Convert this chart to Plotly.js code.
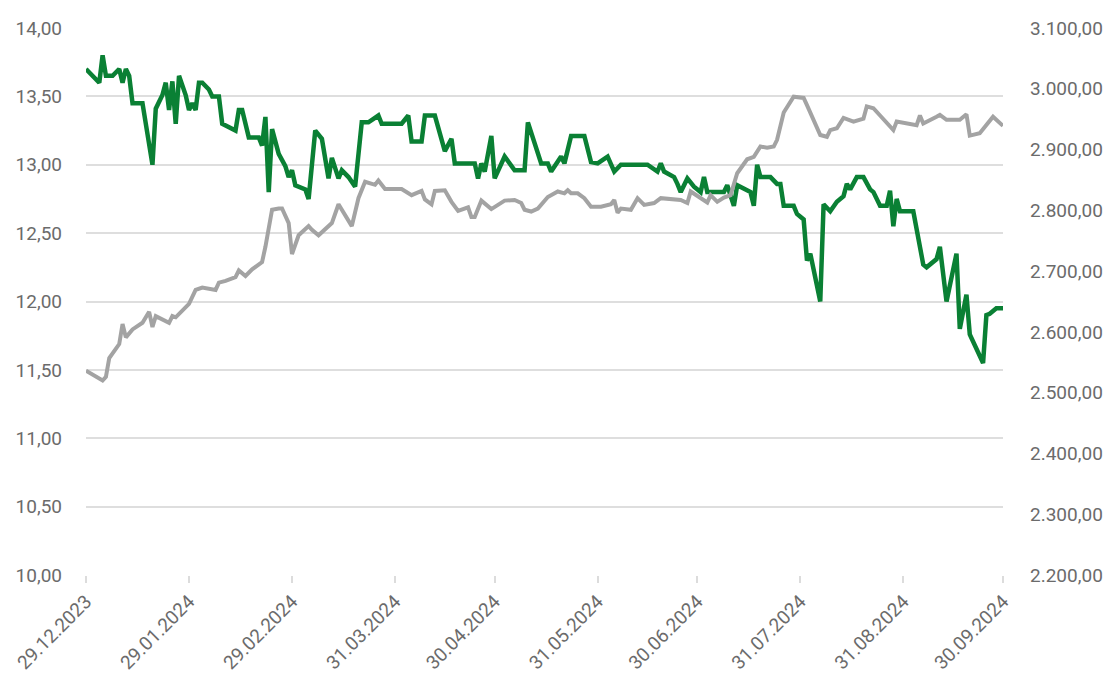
<!DOCTYPE html>
<html>
<head>
<meta charset="utf-8">
<script src="https://cdn.plot.ly/plotly-3.0.1.min.js"></script>
<style>html,body{margin:0;padding:0;background:#fff;}#chart{width:1111px;height:681px;}</style>
</head>
<body>
<div id="chart"></div>
<script>
const greenDates = ["2023-12-29","2024-01-02","2024-01-03","2024-01-04","2024-01-06","2024-01-08","2024-01-09","2024-01-10","2024-01-11","2024-01-12","2024-01-15","2024-01-17","2024-01-18","2024-01-19","2024-01-21","2024-01-22","2024-01-23","2024-01-24","2024-01-25","2024-01-26","2024-01-28","2024-01-29","2024-01-30","2024-01-31","2024-02-01","2024-02-02","2024-02-04","2024-02-05","2024-02-07","2024-02-08","2024-02-12","2024-02-13","2024-02-14","2024-02-16","2024-02-19","2024-02-20","2024-02-21","2024-02-22","2024-02-23","2024-02-25","2024-02-27","2024-02-28","2024-02-29","2024-03-01","2024-03-04","2024-03-05","2024-03-07","2024-03-09","2024-03-11","2024-03-12","2024-03-14","2024-03-15","2024-03-17","2024-03-19","2024-03-21","2024-03-23","2024-03-26","2024-03-27","2024-04-02","2024-04-04","2024-04-05","2024-04-08","2024-04-09","2024-04-12","2024-04-15","2024-04-17","2024-04-18","2024-04-22","2024-04-24","2024-04-25","2024-04-26","2024-04-27","2024-04-29","2024-04-30","2024-05-03","2024-05-06","2024-05-09","2024-05-10","2024-05-14","2024-05-16","2024-05-17","2024-05-20","2024-05-21","2024-05-23","2024-05-27","2024-05-29","2024-05-31","2024-06-03","2024-06-05","2024-06-07","2024-06-15","2024-06-18","2024-06-19","2024-06-20","2024-06-23","2024-06-24","2024-06-25","2024-06-27","2024-06-29","2024-07-01","2024-07-02","2024-07-03","2024-07-04","2024-07-08","2024-07-09","2024-07-11","2024-07-12","2024-07-16","2024-07-17","2024-07-18","2024-07-19","2024-07-22","2024-07-24","2024-07-25","2024-07-26","2024-07-29","2024-07-30","2024-08-01","2024-08-02","2024-08-03","2024-08-06","2024-08-07","2024-08-09","2024-08-11","2024-08-13","2024-08-14","2024-08-15","2024-08-17","2024-08-19","2024-08-21","2024-08-22","2024-08-24","2024-08-26","2024-08-27","2024-08-28","2024-08-29","2024-08-30","2024-09-03","2024-09-06","2024-09-07","2024-09-10","2024-09-11","2024-09-13","2024-09-16","2024-09-17","2024-09-19","2024-09-20","2024-09-24","2024-09-25","2024-09-26","2024-09-28","2024-09-30"];
const greenValues = [13.70,13.60,13.80,13.65,13.65,13.70,13.60,13.70,13.65,13.45,13.45,13.12,13.00,13.41,13.51,13.60,13.40,13.61,13.30,13.65,13.51,13.40,13.45,13.40,13.60,13.60,13.55,13.50,13.50,13.30,13.25,13.40,13.40,13.20,13.20,13.14,13.35,12.80,13.26,13.08,12.99,12.91,12.96,12.85,12.82,12.75,13.25,13.19,12.90,13.05,12.90,12.96,12.91,12.84,13.31,13.31,13.36,13.30,13.30,13.36,13.17,13.17,13.36,13.36,13.10,13.19,13.01,13.01,13.01,12.90,13.01,12.95,13.21,12.90,13.06,12.96,12.96,13.31,13.01,13.01,12.95,13.06,13.01,13.21,13.21,13.02,13.01,13.06,12.95,13.00,13.00,12.95,13.01,12.95,12.91,12.86,12.80,12.90,12.84,12.80,12.91,12.80,12.80,12.80,12.85,12.70,12.85,12.80,12.70,13.00,12.91,12.91,12.86,12.86,12.70,12.70,12.64,12.60,12.30,12.35,12.00,12.71,12.66,12.73,12.77,12.86,12.82,12.91,12.91,12.82,12.80,12.70,12.70,12.81,12.55,12.75,12.66,12.66,12.27,12.25,12.31,12.40,12.00,12.35,11.80,12.05,11.76,11.55,11.90,11.91,11.95,11.95];

const grayDates = ["2023-12-29","2024-01-03","2024-01-04","2024-01-05","2024-01-08","2024-01-09","2024-01-10","2024-01-12","2024-01-15","2024-01-17","2024-01-18","2024-01-19","2024-01-23","2024-01-24","2024-01-25","2024-01-27","2024-01-29","2024-01-31","2024-02-02","2024-02-06","2024-02-07","2024-02-09","2024-02-12","2024-02-13","2024-02-15","2024-02-17","2024-02-20","2024-02-21","2024-02-23","2024-02-25","2024-02-26","2024-02-28","2024-02-29","2024-03-02","2024-03-05","2024-03-06","2024-03-08","2024-03-12","2024-03-14","2024-03-18","2024-03-20","2024-03-22","2024-03-25","2024-03-26","2024-03-28","2024-04-02","2024-04-03","2024-04-05","2024-04-08","2024-04-09","2024-04-11","2024-04-12","2024-04-15","2024-04-17","2024-04-19","2024-04-22","2024-04-23","2024-04-24","2024-04-26","2024-04-29","2024-05-03","2024-05-06","2024-05-08","2024-05-09","2024-05-11","2024-05-13","2024-05-16","2024-05-19","2024-05-21","2024-05-22","2024-05-23","2024-05-25","2024-05-27","2024-05-29","2024-06-01","2024-06-04","2024-06-05","2024-06-06","2024-06-07","2024-06-10","2024-06-12","2024-06-14","2024-06-17","2024-06-19","2024-06-25","2024-06-27","2024-06-28","2024-07-03","2024-07-04","2024-07-06","2024-07-08","2024-07-10","2024-07-12","2024-07-14","2024-07-15","2024-07-17","2024-07-19","2024-07-21","2024-07-23","2024-07-24","2024-07-26","2024-07-29","2024-08-01","2024-08-02","2024-08-06","2024-08-08","2024-08-09","2024-08-11","2024-08-13","2024-08-16","2024-08-19","2024-08-20","2024-08-22","2024-08-24","2024-08-28","2024-08-29","2024-09-04","2024-09-05","2024-09-06","2024-09-10","2024-09-11","2024-09-13","2024-09-17","2024-09-19","2024-09-20","2024-09-23","2024-09-26","2024-09-27","2024-09-30"];
const grayValues = [2536,2520,2526,2557,2580,2613,2591,2604,2615,2633,2608,2626,2615,2626,2624,2635,2646,2669,2673,2669,2681,2684,2690,2701,2692,2703,2715,2740,2801,2803,2803,2779,2728,2759,2774,2768,2759,2779,2810,2774,2820,2847,2842,2849,2835,2835,2831,2825,2832,2818,2810,2832,2833,2814,2799,2805,2789,2789,2816,2802,2816,2817,2812,2801,2798,2803,2822,2831,2828,2833,2828,2828,2820,2806,2806,2810,2817,2796,2803,2801,2820,2809,2812,2820,2817,2812,2831,2813,2825,2814,2821,2825,2861,2875,2884,2888,2905,2903,2905,2916,2961,2987,2985,2973,2924,2921,2932,2935,2952,2946,2951,2971,2968,2956,2932,2946,2940,2956,2943,2954,2957,2949,2949,2958,2923,2927,2947,2954,2939];

const tickDates = ["2023-12-29","2024-01-29","2024-02-29","2024-03-31","2024-04-30","2024-05-31","2024-06-30","2024-07-31","2024-08-31","2024-09-30"];
const tickLabels = ["29.12.2023","29.01.2024","29.02.2024","31.03.2024","30.04.2024","31.05.2024","30.06.2024","31.07.2024","31.08.2024","30.09.2024"];

const tickFont = {family: "Roboto, sans-serif", size: 19, color: "#6b6b6b"};

const traces = [
  {x: grayDates, y: grayValues, yaxis: "y2", type: "scatter", mode: "lines",
   line: {color: "#a3a3a3", width: 4}, hoverinfo: "skip"},
  {x: greenDates, y: greenValues, yaxis: "y", type: "scatter", mode: "lines",
   line: {color: "#0a8034", width: 4.5}, hoverinfo: "skip"}
];

const layout = {
  width: 1111, height: 681,
  margin: {l: 86, r: 108, t: 28, b: 106},
  paper_bgcolor: "#fff", plot_bgcolor: "#fff",
  showlegend: false,
  separators: ",.",
  xaxis: {
    type: "date", range: ["2023-12-29", "2024-09-30"],
    tickmode: "array", tickvals: tickDates, ticktext: tickLabels,
    tickangle: -45, tickfont: tickFont,
    showgrid: false, zeroline: false,
    showline: false, ticks: "outside", ticklen: 7, tickwidth: 2, tickcolor: "#dcdcdc"
  },
  yaxis: {
    range: [10, 14], tickmode: "linear", tick0: 10, dtick: 0.5,
    tickformat: ".2f", tickfont: tickFont,
    showgrid: true, gridcolor: "#dedede", gridwidth: 2,
    zeroline: false, showline: false, ticks: "", ticklabelstandoff: 23
  },
  yaxis2: {
    overlaying: "y", side: "right",
    range: [2200, 3100], tickmode: "linear", tick0: 2200, dtick: 100,
    tickformat: ",.2f", tickfont: tickFont,
    showgrid: false, zeroline: false, showline: false, ticks: "", ticklabelstandoff: 26
  }
};

Plotly.newPlot("chart", traces, layout, {staticPlot: true, displayModeBar: false});
</script>
</body>
</html>
